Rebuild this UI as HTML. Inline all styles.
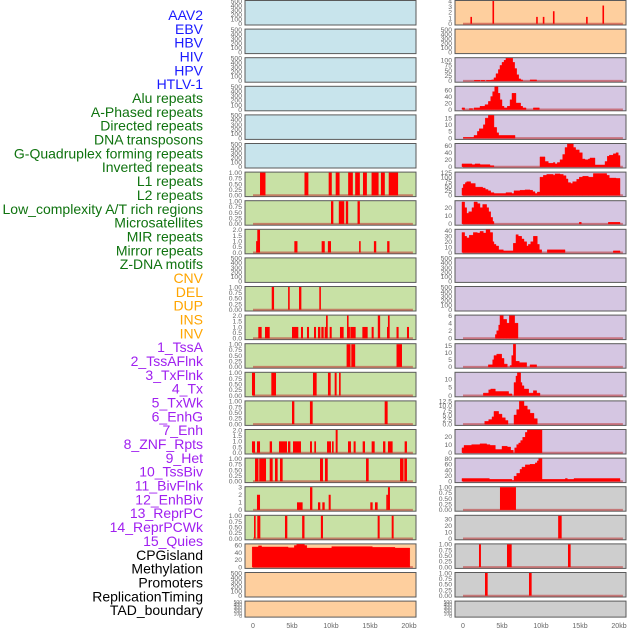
<!DOCTYPE html>
<html><head><meta charset="utf-8"><style>
html,body{margin:0;padding:0;background:#fff;width:630px;height:630px;overflow:hidden}
svg text{font-family:"Liberation Sans",sans-serif}
</style></head><body>
<svg id="chart" width="630" height="630" viewBox="0 0 630 630" xmlns="http://www.w3.org/2000/svg"></svg>
<script>
// ---- labels ----
const trackLabels = ["AAV2","EBV","HBV","HIV","HPV","HTLV-1","Alu repeats","A-Phased repeats","Directed repeats","DNA transposons","G-Quadruplex forming repeats","Inverted repeats","L1 repeats","L2 repeats","Low_complexity A/T rich regions","Microsatellites","MIR repeats","Mirror repeats","Z-DNA motifs","CNV","DEL","DUP","INS","INV","1_TssA","2_TssAFlnk","3_TxFlnk","4_Tx","5_TxWk","6_EnhG","7_Enh","8_ZNF_Rpts","9_Het","10_TssBiv","11_BivFlnk","12_EnhBiv","13_ReprPC","14_ReprPCWk","15_Quies","CPGisland","Methylation","Promoters","ReplicationTiming","TAD_boundary"];
const labelGroups = [6,13,5,15,5];
const xTicks = [0,5,10,15,20];
const xTickLabels = ["0","5kb","10kb","15kb","20kb"];

// ---- column 1 data (intervals [startKb, endKb, value]) ----
const c1r6 = [[0.9,1.6,1],[6.6,7.1,1],[9.7,10.1,1],[10.6,11.1,1],[12.2,12.8,1],[13.1,13.7,1],[14.1,14.6,1],[15.2,16.1,1],[16.4,16.9,1],[17.4,18.6,1]];
const c1r7 = [[10.0,10.3,1],[11.0,11.7,1],[11.9,12.2,1],[13.4,13.7,1]];
const c1r8 = [[0.4,0.55,1],[0.55,0.9,2],[5.3,5.7,1],[8.8,9.2,1],[9.6,10.0,1],[13.6,13.8,1],[15.5,15.8,1],[17.2,17.5,1]];
const c1r10 = [[2.4,2.7,1],[4.5,4.7,1],[5.9,6.2,1],[8.5,8.7,1]];
const c1r11 = [[0.68,1.11,1],[1.54,2.14,1],[5.0,5.81,1],[6.15,6.41,1],[6.92,7.18,1],[7.82,8.08,1],[8.33,8.63,1],[8.76,9.06,1],[9.19,9.36,1],[9.36,9.58,2],[9.83,10.09,1],[11.15,11.62,1],[12.05,12.22,2],[12.22,12.31,1],[12.48,13.16,1],[14.02,14.7,1],[15.21,15.47,1],[16.0,16.3,2],[17.18,17.3,1],[17.3,17.52,2],[18.4,18.67,1],[19.74,20.0,1]];
const c1r12 = [[12.0,12.5,1],[12.6,13.1,1],[18.4,19.1,1]];
const c1r13 = [[-0.13,0.26,1],[2.35,2.95,1],[7.69,8.16,1],[9.61,9.96,1],[10.47,10.72,1],[11.03,11.24,1]];
const c1r14 = [[5.0,5.3,1],[7.3,7.65,1],[16.88,17.26,1]];
const c1r15 = [[-0.13,0.26,1],[0.51,0.9,1],[2.14,2.44,1],[3.33,4.36,1],[4.49,4.79,1],[5.13,6.15,1],[7.31,7.56,1],[7.86,8.08,1],[9.49,10.0,1],[10.13,10.34,1],[10.6,10.85,2],[12.18,12.56,1],[12.9,13.16,1],[14.06,14.36,1],[15.21,15.6,1],[16.67,16.97,1],[17.3,17.9,1],[19.44,19.74,1]];
const c1r16 = [[0.26,0.7,1],[0.8,1.67,1],[2.14,2.52,1],[2.82,3.16,1],[3.46,3.8,1],[8.59,8.97,1],[9.23,9.58,1],[14.49,14.83,1],[18.85,19.3,1],[19.4,19.74,1]];
const c1r17 = [[0.51,0.9,2],[5.64,6.36,1],[7.31,7.61,3],[8.33,8.63,1],[8.89,9.19,1],[9.7,9.96,2],[15.04,15.34,1],[15.64,15.98,1],[17.09,17.3,2],[17.3,17.56,3]];
const c1r18 = [[0.13,0.34,1],[0.55,0.94,1],[4.1,4.4,1],[6.3,6.6,1],[8.7,8.97,1],[15.98,16.24,1],[17.78,18.03,1]];
// step profile: starts + values (final value 0 = end)
const c1r19Starts = [-0.1,0.7,1.1,4.5,5.3,5.6,6.6,6.9,10.1,15.3,18.2,20.1];
const c1r19Vals   = [55,58,55,53,59,62,59,52,56,54,52,0];

// ---- column 2 data ----
const c2r0 = [[0.95,1.1,1.2],[3.78,3.92,4],[9.38,9.52,1.2],[10.23,10.37,1.2],[11.53,11.67,2.2],[15.78,15.92,1.2],[17.88,18.02,3.2]];
const c2r2Starts = [1.45,2.18,2.3,2.8,3.0,3.67,3.97,4.23,4.53,4.74,5.0,5.26,5.5,6.37,6.62,6.88,7.14,7.39,7.65,8.6,9.44];
const c2r2Vals   = [3,0,3,0,3,5,15,35,55,75,90,100,110,90,60,30,10,5,0,5,0];
const c2r3Starts = [-0.13,0.21,0.81,1.24,1.41,2.18,2.82,3.25,3.55,3.8,4.06,4.49,4.74,5.0,5.26,5.68,6.03,6.28,6.79,7.39,7.65,8.08,9.02,9.79];
const c2r3Vals   = [5,0,3,0,5,10,15,25,40,55,70,50,30,10,5,10,30,50,20,10,5,0,5,0];
const c2r4Starts = [0.04,1.41,1.84,2.09,2.61,2.86,3.25,3.97,4.32,4.57,6.67];
const c2r4Vals   = [0.5,2,5,7,10,15,17,8,4,2,0];
const c2r5Starts = [-0.13,1.15,1.54,2.18,3.46,3.97,9.87,10.51,10.94,11.58,11.79,12.09,12.44,12.78,13.08,13.38,14.15,14.44,14.91,15.3,15.64,16.07,16.28,16.92,18.21,18.5,18.76,19.27,19.62,19.91,20.13];
const c2r5Vals   = [8,6,8,6,3,0,28,15,10,12,8,12,20,35,55,65,55,48,40,22,20,22,25,5,15,30,33,37,40,32,0];
const c2r6Starts = [-0.13,0.04,0.3,0.47,0.98,1.58,2.52,2.86,3.21,3.55,3.97,5.51,6.24,6.54,7.31,7.95,8.59,8.93,9.23,9.53,9.87,10.3,10.73,11.58,11.79,12.44,12.86,13.21,13.46,13.8,14.06,14.57,14.91,15.34,16.07,16.71,18.42,18.76,19.62,20.13];
const c2r6Vals   = [40,60,70,75,65,45,40,32,25,15,10,15,10,25,28,30,28,20,10,18,100,110,115,110,118,115,108,90,70,65,75,88,100,105,100,120,110,95,93,0];
const c2r7Starts = [-0.13,0.21,0.47,0.73,1.15,1.41,1.84,2.18,2.52,3.03,3.29,3.55,3.8,3.97,14.91,15.17,18.63,20.13];
const c2r7Vals   = [27,20,13,15,20,27,25,20,24,20,15,8,3,0,2,0,2,0];
const c2r8Starts = [-0.13,0.21,0.47,0.81,1.32,1.84,2.18,2.61,2.95,3.46,3.8,3.97,4.23,4.57,5.17,6.45,6.79,7.09,7.52,7.82,8.16,8.38,8.68,9.02,9.53,9.79,10.09,10.81,13.08,19.27,20.13];
const c2r8Vals   = [37,30,27,32,37,36,39,36,42,37,20,15,12,5,3,17,33,30,25,20,12,15,20,30,15,5,0,5,0,3,0];
const c2r11Starts = [4.15,4.32,4.57,4.74,5.17,5.6,5.94,6.62,7.05];
const c2r11Vals   = [1,2,3.5,6,5,4,6,4,0];
const c2r12Starts = [3.25,3.8,3.97,4.32,4.96,5.26,5.68,6.03,6.24,6.45,6.75,7.22,8.16,8.59,9.44];
const c2r12Vals   = [1.5,5,8,9,6,2,0,1,8,16,4,3,0,1.5,0];
const c2r13Starts = [2.61,3.29,3.55,4.15,5.85,6.28,6.54,6.79,6.97,7.39,7.56,7.82,8.42,9.02,9.44,9.87];
const c2r13Vals   = [1.5,3.5,4,2.5,1,0,8,12,14,8,6,4,1.5,3,1.5,0];
const c2r14Starts = [2.78,3.29,3.72,3.97,4.57,5.0,5.43,5.77,6.54,6.88,7.22,7.82,8.25,8.59,9.1,9.53];
const c2r14Vals   = [1.5,2.5,4,7,5.5,3.5,2,0,5,8,12.5,10,8,6,3,0];
const c2r15Starts = [-0.13,0.13,1.11,2.18,3.03,3.46,4.15,5.0,5.68,6.11,6.45,6.62,6.88,7.14,7.39,7.65,7.99,8.25,10.13];
const c2r15Vals   = [6,9,10,11,10,9,4,8,7,3,0,6,10,12,15,19,25,28,0];
const c2r16Starts = [-0.13,3.38,6.28,6.54,6.88,7.31,7.56,7.99,8.59,9.27,9.53,9.7,10.13,13.12,13.38,14.23,20.13];
const c2r16Vals   = [10,7,3,18,28,42,50,58,60,65,72,80,7,10,7,10,0];
const c2r17 = [[4.74,6.79,1]];
const c2r18 = [[12.2,12.65,35]];
const c2r19 = [[2.05,2.3,1],[5.64,6.24,1],[13.46,13.8,1]];
const c2r20 = [[2.82,3.16,1],[8.46,8.8,1]];

// tick sets
const tEmpty = [0,100,200,300,400,500];
const tUnit = [0,0.25,0.5,0.75,1];
const tTwo = [0,0.5,1,1.5,2];
const tThree = [0,1,2,3];
const tFour = [0,1,2,3,4];

const BLUE="#c8e4ec",GREEN="#c8e1a5",ORANGE="#fecf9e",LAV="#d5c6e2",GRAY="#cecece";
const col1 = [
 {bg:BLUE},{bg:BLUE},{bg:BLUE},{bg:BLUE},{bg:BLUE},{bg:BLUE},
 {bg:GREEN,bars:c1r6,ticks:tUnit,dec:2},
 {bg:GREEN,bars:c1r7,ticks:tUnit,dec:2},
 {bg:GREEN,bars:c1r8,ticks:tTwo,dec:1},
 {bg:GREEN},
 {bg:GREEN,bars:c1r10,ticks:tUnit,dec:2},
 {bg:GREEN,bars:c1r11,ticks:tTwo,dec:1},
 {bg:GREEN,bars:c1r12,ticks:tUnit,dec:2},
 {bg:GREEN,bars:c1r13,ticks:tUnit,dec:2},
 {bg:GREEN,bars:c1r14,ticks:tUnit,dec:2},
 {bg:GREEN,bars:c1r15,ticks:tTwo,dec:1},
 {bg:GREEN,bars:c1r16,ticks:tUnit,dec:2},
 {bg:GREEN,bars:c1r17,ticks:tThree,dec:0},
 {bg:GREEN,bars:c1r18,ticks:tUnit,dec:2},
 {bg:ORANGE,starts:c1r19Starts,vals:c1r19Vals,ticks:[0,20,40,60],dec:0,ymax:62},
 {bg:ORANGE},{bg:ORANGE}
];
const col2 = [
 {bg:ORANGE,bars:c2r0,ticks:tFour,dec:0},
 {bg:ORANGE},
 {bg:LAV,starts:c2r2Starts,vals:c2r2Vals,ticks:[0,25,50,75,100],dec:0,ymax:110},
 {bg:LAV,starts:c2r3Starts,vals:c2r3Vals,ticks:[0,20,40,60],dec:0,ymax:70},
 {bg:LAV,starts:c2r4Starts,vals:c2r4Vals,ticks:[0,5,10,15],dec:0,ymax:17},
 {bg:LAV,starts:c2r5Starts,vals:c2r5Vals,ticks:[0,20,40,60],dec:0,ymax:65},
 {bg:LAV,starts:c2r6Starts,vals:c2r6Vals,ticks:[0,25,50,75,100,125],dec:0,ymax:125},
 {bg:LAV,starts:c2r7Starts,vals:c2r7Vals,ticks:[0,10,20],dec:0,ymax:28},
 {bg:LAV,starts:c2r8Starts,vals:c2r8Vals,ticks:[0,10,20,30,40],dec:0,ymax:42},
 {bg:LAV},{bg:LAV},
 {bg:LAV,starts:c2r11Starts,vals:c2r11Vals,ticks:[0,2,4,6],dec:0,ymax:6},
 {bg:LAV,starts:c2r12Starts,vals:c2r12Vals,ticks:[0,5,10,15],dec:0,ymax:16},
 {bg:LAV,starts:c2r13Starts,vals:c2r13Vals,ticks:[0,5,10],dec:0,ymax:14},
 {bg:LAV,starts:c2r14Starts,vals:c2r14Vals,ticks:[0,2.5,5,7.5,10,12.5],dec:1,ymax:12.5},
 {bg:LAV,starts:c2r15Starts,vals:c2r15Vals,ticks:[0,10,20],dec:0,ymax:28},
 {bg:LAV,starts:c2r16Starts,vals:c2r16Vals,ticks:[0,20,40,60,80],dec:0,ymax:80},
 {bg:GRAY,bars:c2r17,ticks:tUnit,dec:2},
 {bg:GRAY,bars:c2r18,ticks:[0,10,20,30],dec:0,ymax:35},
 {bg:GRAY,bars:c2r19,ticks:tUnit,dec:2},
 {bg:GRAY,bars:c2r20,ticks:tUnit,dec:2},
 {bg:GRAY}
];

const NS="http://www.w3.org/2000/svg";
const svg=document.getElementById('chart');
function mk(tag,attrs,parent){const e=document.createElementNS(NS,tag);for(const k in attrs)e.setAttribute(k,attrs[k]);(parent||svg).appendChild(e);return e;}

// labels
const groupColors=["#1a1aff","#0f730f","#ffa500","#a020f0","#000000"];
let gi=0,gc=0;
trackLabels.forEach((t,i)=>{
  const el=mk('text',{x:203,y:20+i*13.84,'text-anchor':'end','font-size':14,fill:groupColors[gi]});
  el.textContent=t;
  
  
  gc++; if(gc>=labelGroups[gi]){gi++;gc=0;}
});

const KB=7.8;
function rowGeom(r){const top=0.5+r*28.6;const h=(r===21)?16:24.5;return {top,h};}
function drawPanel(cfg,r,x0,colName){
  const {top,h}=rowGeom(r);
  const left=x0-8, width=171;
  const xs=v=>x0+v*KB;
  const g=mk('g',{});
  
  
  const bg=mk('rect',{x:left,y:top,width:width,height:h,fill:cfg.bg,stroke:'#5a5a5a','stroke-width':1},g);
  
  
  const ticks=cfg.ticks||tEmpty;
  const ymax=cfg.ymax||ticks[ticks.length-1];
  const y0=top+h-1.3, span=h-1.8;
  const ys=v=>y0-v/ymax*span;
  // ticks
  ticks.forEach(t=>{
    const tl=mk('text',{x:left-3,y:ys(t)+2.3,'text-anchor':'end','font-size':(r===21?5:6.8),fill:'#666'},g);
    tl.textContent=(cfg.dec!==undefined)?t.toFixed(cfg.dec):String(t);
    
    
  });
  // baseline
  if(cfg.bars||cfg.starts){
    const bl=mk('line',{x1:xs(0),x2:xs(20.5),y1:y0,y2:y0,stroke:'rgba(190,50,50,0.55)','stroke-width':2},g);
    
    
  }
  if(cfg.bars){
    cfg.bars.forEach(b=>{
      const w=Math.max(xs(b[1])-xs(b[0]),1.6);
      const rc=mk('rect',{x:xs(b[0]),y:ys(b[2]),width:w,height:y0-ys(b[2]),fill:'#ff0000'},g);
      
      
    });
  }
  if(cfg.starts){
    let d='';
    for(let i=0;i<cfg.starts.length-1;i++){
      const v=cfg.vals[i]; if(v<=0) continue;
      const a=xs(cfg.starts[i]), b=xs(cfg.starts[i+1]);
      d+=`M${a},${y0}V${ys(v)}H${b}V${y0}Z`;
    }
    const p=mk('path',{d:d,fill:'#ff0000',stroke:'#ff0000','stroke-width':0.4},g);
    
    
  }
}
col1.forEach((c,r)=>drawPanel(c,r,253,'left'));
col2.forEach((c,r)=>drawPanel(c,r,463,'right'));
// x axes
[253,463].forEach((x0,ci)=>{
  xTicks.forEach((t,i)=>{
    const tl=mk('text',{x:x0+t*KB,y:628,'text-anchor':'middle','font-size':7,fill:'#666'});
    tl.textContent=xTickLabels[i];
    
    
  });
});
</script>
</body></html>
